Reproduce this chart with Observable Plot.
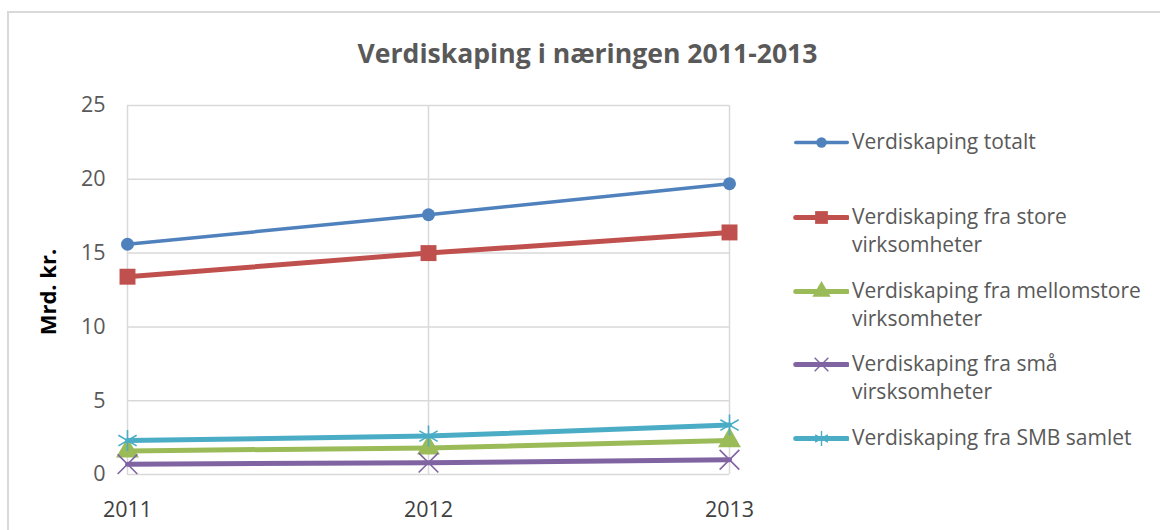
<!DOCTYPE html>
<html>
<head>
<meta charset="utf-8">
<script src="https://cdn.jsdelivr.net/npm/d3@7"></script>
<script src="https://cdn.jsdelivr.net/npm/@observablehq/plot@0.6"></script>
<style>
  html, body { margin: 0; padding: 0; background: #fff; }
  #wrap { position: relative; width: 1160px; height: 530px; overflow: hidden; font-family: "Open Sans", sans-serif; }
  #frame { position: absolute; left: 7px; top: 11px; width: 1200px; height: 600px; border-left: 2px solid #d9d9d9; border-top: 2px solid #d9d9d9; }
  #title { position: absolute; left: 0; width: 1175px; top: 35px; text-align: center; font-size: 26.6px; font-weight: bold; color: #595959; line-height: 36px; }
  #ylabel { position: absolute; left: 47px; top: 292px; transform: translate(-50%, -50%) rotate(-90deg); font-size: 22px; font-weight: bold; color: #000; white-space: nowrap; }
  #legend { position: absolute; left: 793px; top: 0; }
  .item { position: absolute; left: 0; display: flex; align-items: flex-start; white-space: nowrap; }
  .item svg { flex: none; }
  .item .lab { font-size: 21px; color: #595959; line-height: 28px; margin-left: 3px; margin-top: -1px; }
  #chart { position: absolute; left: 0; top: 0; }
</style>
</head>
<body>
<div id="wrap">
  <div id="frame"></div>
  <div id="chart"></div>
  <div id="title">Verdiskaping i næringen 2011-2013</div>
  <div id="ylabel">Mrd. kr.</div>
  <div id="legend"></div>
</div>
<script>
const years = [2011, 2012, 2013];
const seriesNames = [
  "Verdiskaping totalt",
  "Verdiskaping fra store virksomheter",
  "Verdiskaping fra mellomstore virksomheter",
  "Verdiskaping fra små virsksomheter",
  "Verdiskaping fra SMB samlet"
];
const legendLines = [
  ["Verdiskaping totalt"],
  ["Verdiskaping fra store", "virksomheter"],
  ["Verdiskaping fra mellomstore", "virksomheter"],
  ["Verdiskaping fra små", "virsksomheter"],
  ["Verdiskaping fra SMB samlet"]
];
const totalt = [15.6, 17.6, 19.7];
const store = [13.4, 15.0, 16.4];
const mellomstore = [1.6, 1.8, 2.3];
const smaa = [0.7, 0.8, 1.0];
const smb = [2.3, 2.6, 3.35];
const yTicks = [0, 5, 10, 15, 20, 25];

const colors = ["#4f81bd", "#c0504d", "#9bbb59", "#8064a2", "#4bacc6"];
const symbols = ["circle", "square", "triangle", "times", "asterisk"];
const widths = [3.5, 5, 5, 5, 5];
const radii = [6.5, 9, 8.5, 9, 10];
const filled = [true, true, true, false, false];
const values = [totalt, store, mellomstore, smaa, smb];

const marks = [
  Plot.gridX(years, {stroke: "#d9d9d9", strokeOpacity: 1, strokeWidth: 1.5}),
  Plot.gridY(yTicks, {stroke: "#d9d9d9", strokeOpacity: 1, strokeWidth: 1.5}),
  Plot.axisY({ticks: yTicks, tickSize: 0, tickPadding: 22, fontSize: 21.5, color: "#595959", label: null}),
  Plot.axisX({ticks: years, tickFormat: "d", tickSize: 0, tickPadding: 27, fontSize: 21.5, color: "#404040", label: null})
];
values.forEach((vals, i) => {
  const data = years.map((yr, j) => ({year: yr, value: vals[j]}));
  marks.push(Plot.line(data, {x: "year", y: "value", stroke: colors[i], strokeWidth: widths[i], strokeLinecap: "round"}));
  marks.push(Plot.dot(data, filled[i]
    ? {x: "year", y: "value", symbol: symbols[i], r: radii[i], fill: colors[i], stroke: "none"}
    : {x: "year", y: "value", symbol: symbols[i], r: radii[i], stroke: colors[i], strokeWidth: 1.6, fill: "none"}));
});

const chart = Plot.plot({
  width: 1160,
  height: 530,
  marginLeft: 127,
  marginRight: 431,
  marginTop: 105,
  marginBottom: 56,
  style: {fontFamily: "'Open Sans', sans-serif", background: "transparent"},
  x: {type: "linear", domain: [2011, 2013]},
  y: {domain: [0, 25]},
  marks
});
document.getElementById("chart").appendChild(chart);

// Legend
const legendTops = [128, 203, 277, 350, 424];
const legend = document.getElementById("legend");
seriesNames.forEach((name, i) => {
  const item = document.createElement("div");
  item.className = "item";
  item.style.top = legendTops[i] + "px";
  const sym = Plot.plot({
    width: 56, height: 28, margin: 0,
    x: {domain: [0, 1], axis: null}, y: {domain: [0, 1], axis: null},
    style: {background: "transparent"},
    marks: [
      Plot.line([{x: 0.04, y: 0.5}, {x: 0.96, y: 0.5}], {x: "x", y: "y", stroke: colors[i], strokeWidth: widths[i], strokeLinecap: "round"}),
      Plot.dot([{x: 0.5, y: 0.5}], filled[i]
        ? {x: "x", y: "y", symbol: symbols[i], r: radii[i] * 0.8, fill: colors[i]}
        : {x: "x", y: "y", symbol: symbols[i], r: radii[i] * 0.7, stroke: colors[i], strokeWidth: 1.4, fill: "none"})
    ]
  });
  item.appendChild(sym);
  const lab = document.createElement("div");
  lab.className = "lab";
  lab.setAttribute("aria-label", name);
  lab.innerHTML = legendLines[i].join("<br>");
  item.appendChild(lab);
  legend.appendChild(item);
});
</script>
</body>
</html>
